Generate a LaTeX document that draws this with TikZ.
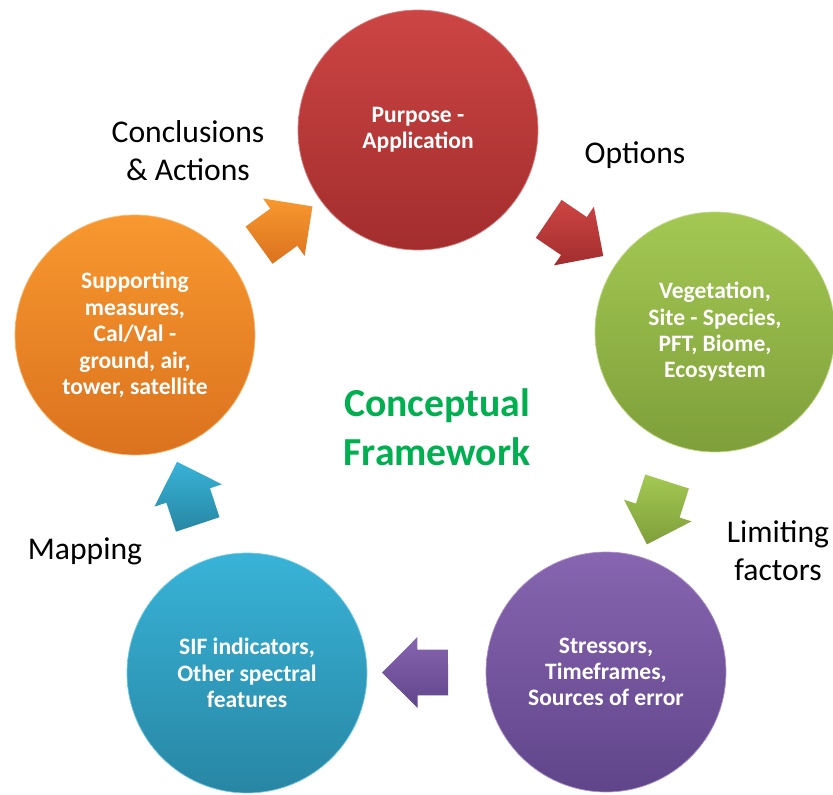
\documentclass[tikz,border=0pt]{standalone}
\usepackage{fontspec}
\setmainfont{Carlito}
\usetikzlibrary{shapes.arrows}

\definecolor{redtop}{HTML}{CC4544}
\definecolor{redbot}{HTML}{A32D2D}
\definecolor{greentop}{HTML}{A4C853}
\definecolor{greenbot}{HTML}{7E9F3A}
\definecolor{purpletop}{HTML}{8765B0}
\definecolor{purplebot}{HTML}{60458A}
\definecolor{bluetop}{HTML}{38B3D7}
\definecolor{bluebot}{HTML}{2886A4}
\definecolor{orangetop}{HTML}{F8982F}
\definecolor{orangebot}{HTML}{DB721E}
\definecolor{framegreen}{HTML}{00B050}

\begin{document}
\begin{tikzpicture}[x=0.02cm, y=-0.02cm,
  bubble/.style={circle, minimum size=4.8cm, inner sep=0pt, text=white,
    align=center, font=\bfseries\fontsize{13.4}{15}\selectfont},
  cyclearrow/.style={single arrow, sloped, allow upside down, minimum height=1.32cm,
    minimum width=1.42cm, inner ysep=0.45cm, inner xsep=0pt},
  steplabel/.style={align=center, font=\fontsize{18}{21.5}\selectfont}]

\useasboundingbox (0,0) rectangle (833,795);

% the five steps
\node[bubble, top color=redtop, bottom color=redbot, draw=redtop!70!white] (purpose) at (418,130) {Purpose -\\Application};
\node[bubble, top color=greentop, bottom color=greenbot, draw=greentop!70!white] (vegetation) at (715,332) {Vegetation,\\Site - Species,\\PFT, Biome,\\Ecosystem};
\node[bubble, top color=purpletop, bottom color=purplebot, draw=purpletop!70!white] (stressors) at (606,672) {Stressors,\\Timeframes,\\Sources of error};
\node[bubble, top color=bluetop, bottom color=bluebot, draw=bluetop!70!white] (sif) at (247,673) {SIF indicators,\\Other spectral\\features};
\node[bubble, top color=orangetop, bottom color=orangebot, draw=orangetop!70!white] (support) at (135,335) {Supporting\\measures,\\Cal/Val -\\ground, air,\\tower, satellite};

% arrows between them
\path (support) -- node[cyclearrow, top color=orangetop, bottom color=orangebot] (conclude) {} (purpose);
\path (purpose) -- node[cyclearrow, top color=redtop, bottom color=redbot] (options) {} (vegetation);
\path (vegetation) -- node[cyclearrow, top color=greentop, bottom color=greenbot] (limit) {} (stressors);
\path (stressors) -- node[cyclearrow, top color=purpletop, bottom color=purplebot] (feature) {} (sif);
\path (sif) -- node[cyclearrow, top color=bluetop, bottom color=bluebot] (mapping) {} (support);

% labels
\node[steplabel] (conclabel) at (188,151) {Conclusions\\\& Actions};
\node[steplabel] (optlabel) at (635,155) {Options};
\node[steplabel] (limlabel) at (778,551) {Limiting\\factors};
\node[steplabel] (maplabel) at (85,551) {Mapping};

\node[align=center, text=framegreen, font=\bfseries\fontsize{22.6}{27.8}\selectfont] (title) at (437,427) {Conceptual\\Framework};

\end{tikzpicture}
\end{document}
